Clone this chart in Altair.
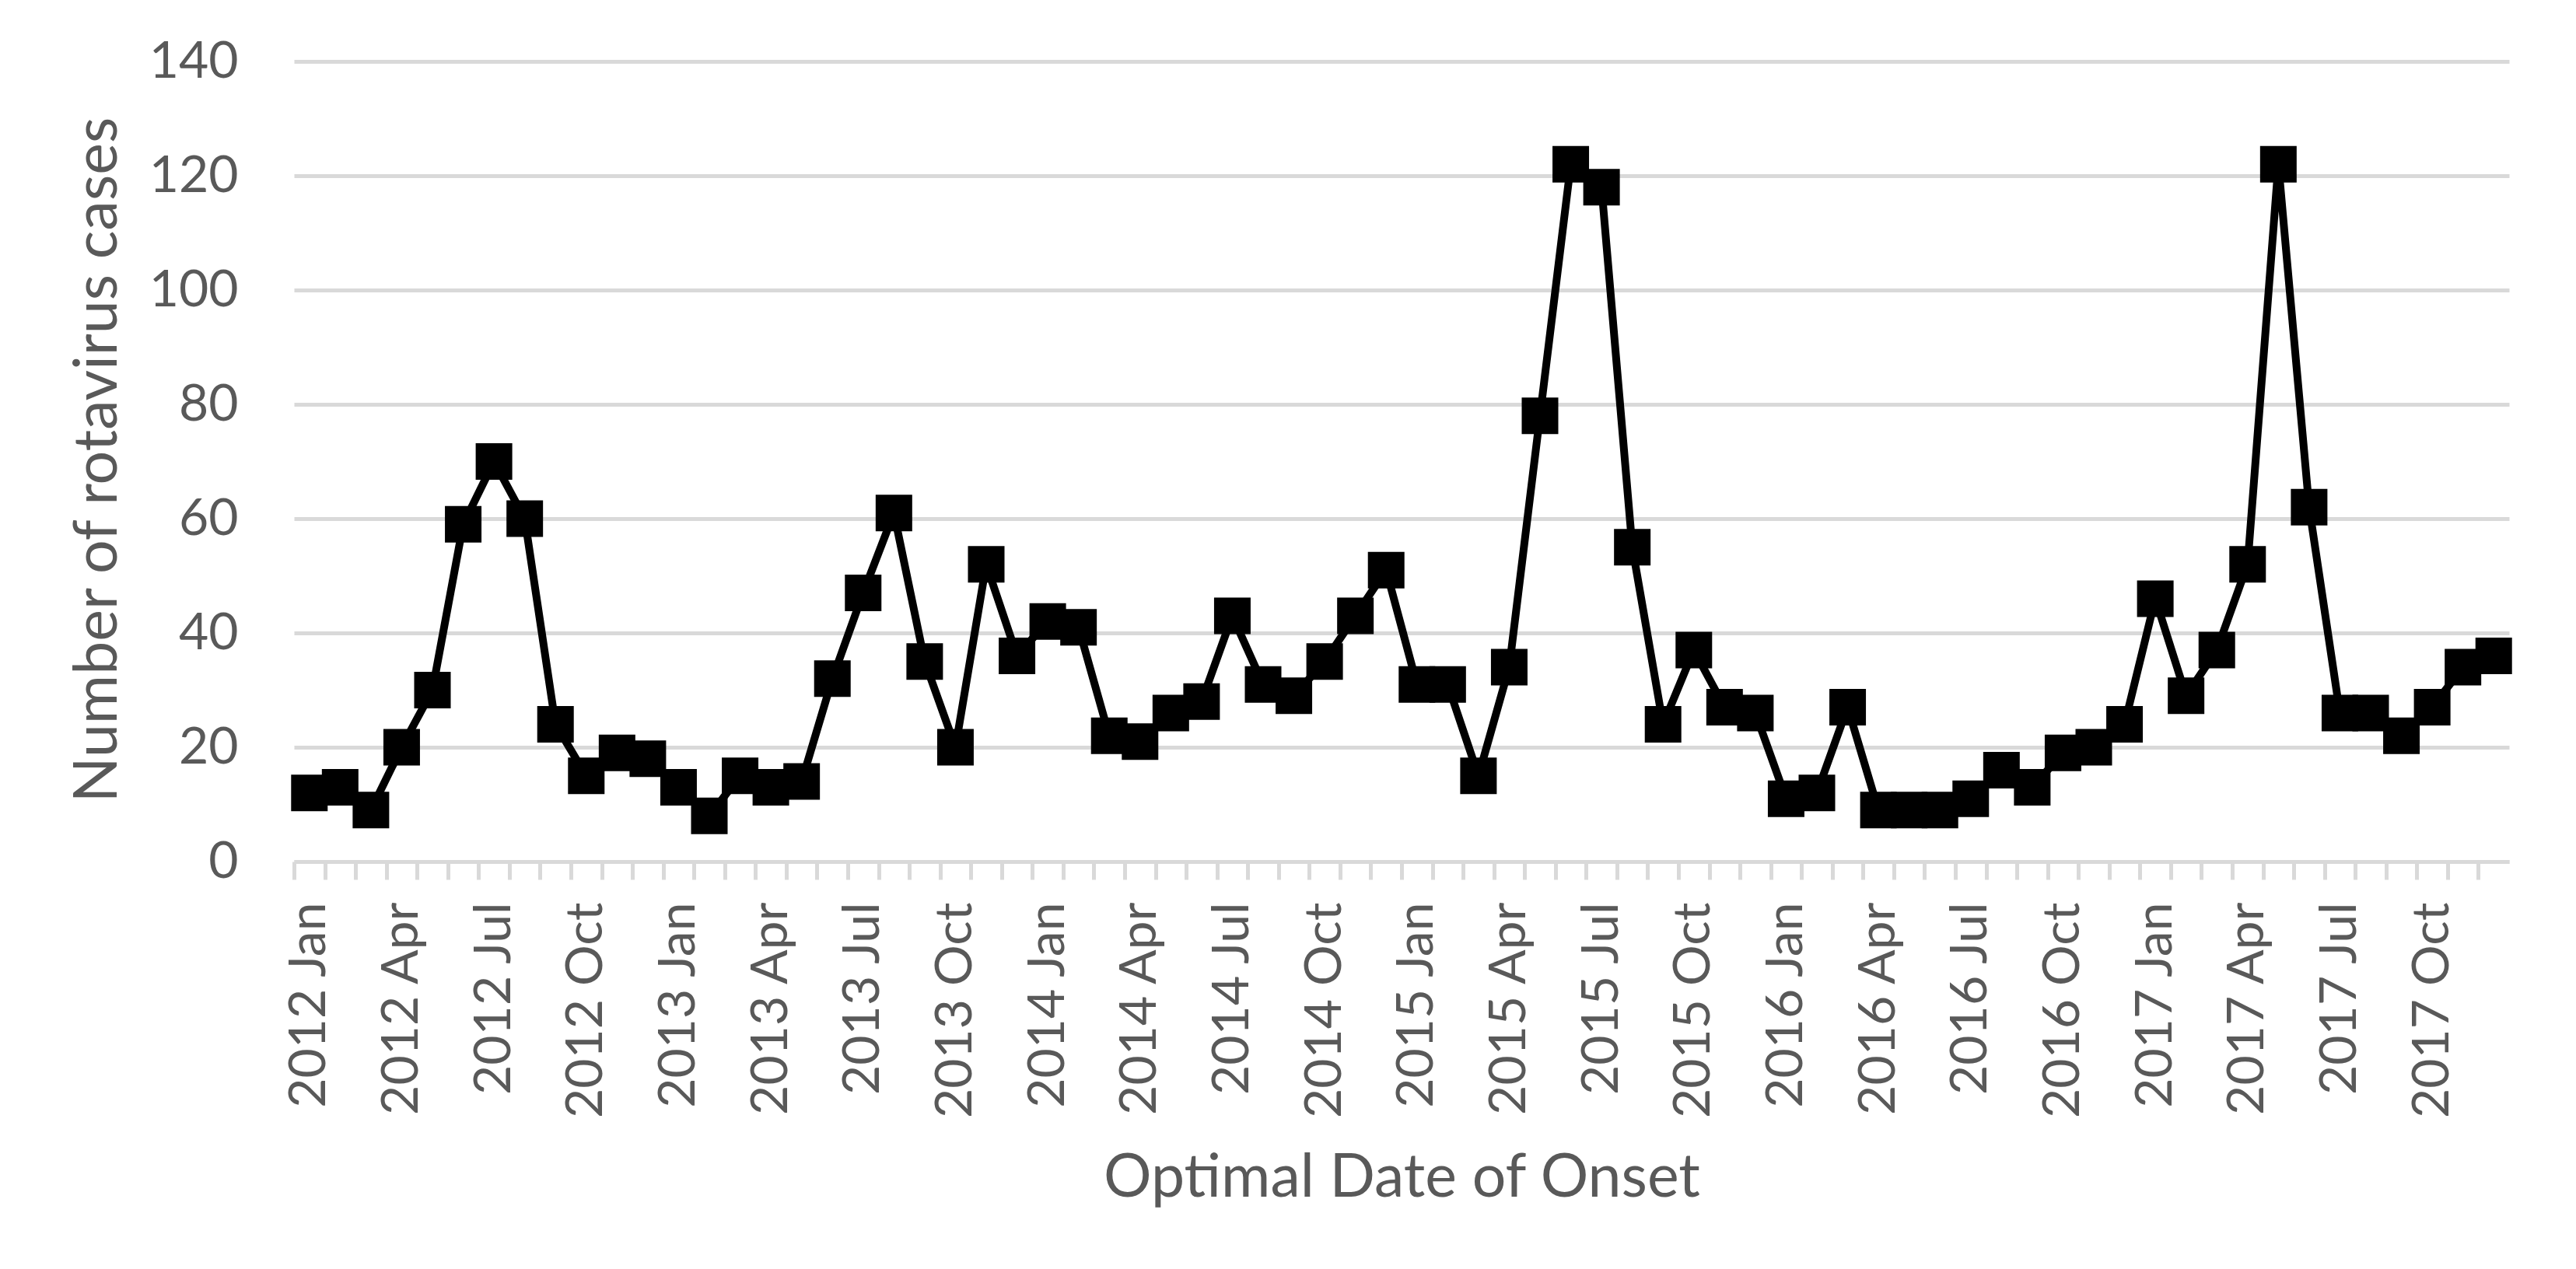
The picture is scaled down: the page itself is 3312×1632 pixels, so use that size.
import altair as alt
import pandas as pd

years = ["2012", "2013", "2014", "2015", "2016", "2017"]
month_names = ["Jan", "Feb", "Mar", "Apr", "May", "Jun",
               "Jul", "Aug", "Sep", "Oct", "Nov", "Dec"]
months = [f"{y} {m}" for y in years for m in month_names]

cases = [
    12, 13, 9, 20, 30, 59, 70, 60, 24, 15, 19, 18,      # 2012
    13, 8, 15, 13, 14, 32, 47, 61, 35, 20, 52, 36,      # 2013
    42, 41, 22, 21, 26, 28, 43, 31, 29, 35, 43, 51,     # 2014
    31, 31, 15, 34, 78, 122, 118, 55, 24, 37, 27, 26,   # 2015
    11, 12, 27, 9, 9, 9, 11, 16, 13, 19, 20, 24,        # 2016
    46, 29, 37, 52, 122, 62, 26, 26, 22, 27, 34, 36,    # 2017
]
y_ticks = [0, 20, 40, 60, 80, 100, 120, 140]

df = pd.DataFrame({"month": months, "cases": cases})

FONT = "Lato"
TXT = "#595959"
GRID = "#d9d9d9"
W = 2848
H = 1029
band = W / len(months)

x_enc = alt.X(
    "month:N",
    sort=months,
    scale=alt.Scale(type="band", paddingInner=0, paddingOuter=0),
    axis=alt.Axis(
        title="Optimal Date of Onset",
        labelAngle=-90,
        labelExpr="indexof(['Jan','Apr','Jul','Oct'], slice(datum.value, 5)) >= 0 ? datum.value : ''",
        labelFont=FONT, labelFontSize=66, labelColor=TXT,
        labelPadding=29, labelOverlap=False, labelLimit=0,
        tickOffset=-band / 2, labelOffset=band / 2,
        ticks=True, tickSize=23, tickWidth=5, tickColor=GRID,
        domain=True, domainColor=GRID, domainWidth=5,
        grid=False,
        titleFont=FONT, titleFontSize=77, titleFontWeight="normal", titleColor=TXT,
        titleBaseline="alphabetic", titleY=430,
    ),
)

y_enc = alt.Y(
    "cases:Q",
    scale=alt.Scale(domain=[0, 140], nice=False),
    axis=alt.Axis(
        title="Number of rotavirus cases",
        values=y_ticks,
        labelFont=FONT, labelFontSize=66, labelColor=TXT,
        labelPadding=72, ticks=False, domain=False,
        grid=True, gridColor=GRID, gridWidth=5,
        titleFont=FONT, titleFontSize=77, titleFontWeight="normal", titleColor=TXT,
        titleBaseline="alphabetic", titleX=-229, titleY=512, titleAngle=-90,
    ),
)

base = alt.Chart(df).encode(x=x_enc, y=y_enc)

line = base.mark_line(color="black", strokeWidth=10)
pts = base.mark_point(shape="square", filled=True, size=2209, color="black", opacity=1)

chart = (
    alt.layer(line, pts)
    .properties(
        width=W, height=H,
        padding={"left": 370, "top": 71, "right": 60, "bottom": 480},
        autosize=alt.AutoSizeParams(type="none"),
        background="white",
    )
    .configure_view(stroke=None)
)

chart.save("out.html", embed_options={"renderer": "svg", "actions": False})
